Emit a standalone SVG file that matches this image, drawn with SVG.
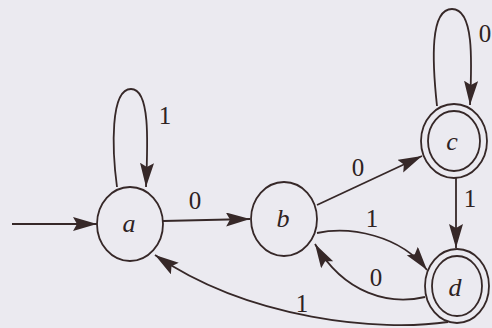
<svg xmlns="http://www.w3.org/2000/svg" width="492" height="328" viewBox="0 0 492 328">
<style>
.st{fill:none;stroke:#362828;stroke-width:1.8}
.ed{fill:none;stroke:#362828;stroke-width:1.8}
.lb{font-family:"Liberation Serif","DejaVu Serif",serif;font-style:italic;font-size:26px;fill:#2e2222;text-anchor:middle;dominant-baseline:central}
.nm{font-family:"Liberation Serif","DejaVu Serif",serif;font-size:25px;fill:#2e2222;text-anchor:middle;dominant-baseline:central}
</style>
<defs>
<marker id="ah" markerUnits="userSpaceOnUse" markerWidth="26" markerHeight="16" refX="24" refY="7" orient="auto">
<path d="M0,0 L24,7 L0,14 L4,7 Z" fill="#362828"/>
</marker>
</defs>
<rect width="492" height="328" fill="#ebeaf0"/>
<g id="connectors">
<path class="ed" d="M12,224 L97,224" marker-end="url(#ah)"/>
<path class="ed" d="M117,187 C112,150 110,89 131,89 C150,89 148,140 146,187" marker-end="url(#ah)"/>
<path class="ed" d="M163,221 L250,219" marker-end="url(#ah)"/>
<path class="ed" d="M317,205 L422,156" marker-end="url(#ah)"/>
<path class="ed" d="M437,106 C432,60 430,9 452,9 C474,9 472,60 470,105" marker-end="url(#ah)"/>
<path class="ed" d="M456,178 L456,248" marker-end="url(#ah)"/>
<path class="ed" d="M317,233 C350,226 400,235 427,270" marker-end="url(#ah)"/>
<path class="ed" d="M425,297 C390,305 345,295 315,244" marker-end="url(#ah)"/>
<path class="ed" d="M448,322 C380,332 250,320 155,255" marker-end="url(#ah)"/>
<text class="nm" x="165" y="115">1</text>
<text class="nm" x="485" y="33">0</text>
<text class="nm" x="195" y="200">0</text>
<text class="nm" x="358" y="167">0</text>
<text class="nm" x="470" y="198">1</text>
<text class="nm" x="372" y="218">1</text>
<text class="nm" x="376" y="277">0</text>
<text class="nm" x="302" y="303">1</text>
</g>
<g id="node-a">
<ellipse class="st" cx="130" cy="224" rx="33" ry="37"/>
<text class="lb" x="129" y="223">a</text>
</g>
<g id="node-b">
<ellipse class="st" cx="284" cy="219" rx="33" ry="37"/>
<text class="lb" x="283" y="218">b</text>
</g>
<g id="node-c">
<ellipse class="st" cx="454" cy="141" rx="33" ry="37"/>
<ellipse class="st" cx="454" cy="141" rx="26" ry="30"/>
<text class="lb" x="452" y="141">c</text>
</g>
<g id="node-d">
<ellipse class="st" cx="457" cy="286" rx="32" ry="37"/>
<ellipse class="st" cx="457" cy="286" rx="25" ry="30"/>
<text class="lb" x="455" y="287">d</text>
</g>
</svg>
